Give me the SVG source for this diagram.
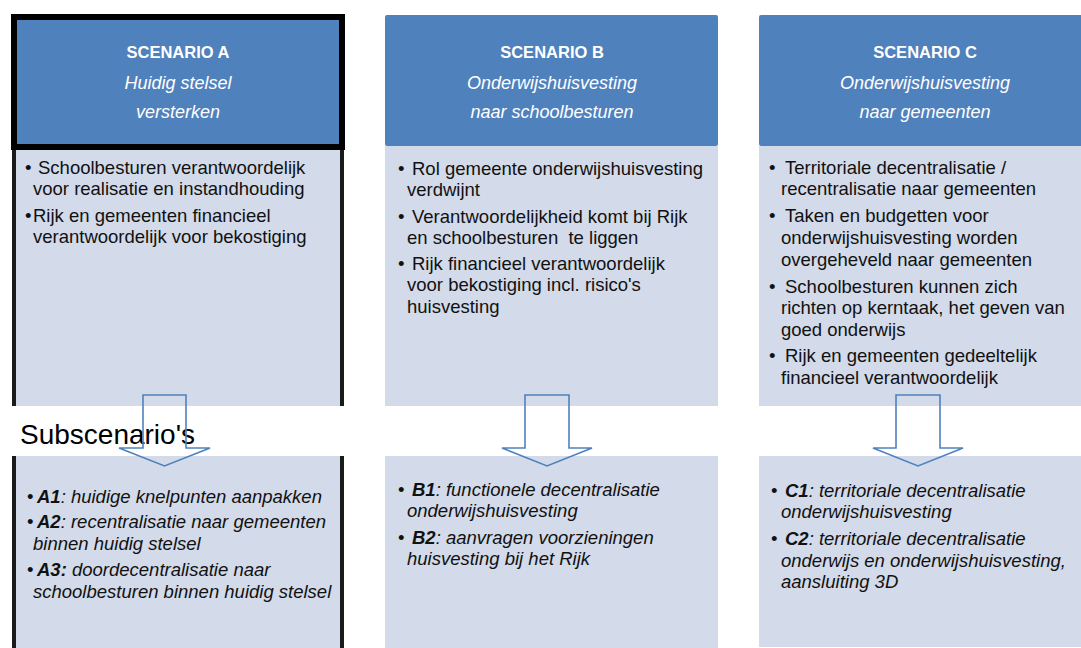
<svg xmlns="http://www.w3.org/2000/svg" width="1081" height="648" viewBox="0 0 1081 648">
<style>
.hdr{fill:#4f81bd}
.body{fill:#d3dae9}
.t{font-family:"Liberation Sans",Arial,sans-serif;font-size:18.5px;fill:#111}
.i{font-style:italic}
.b{font-weight:bold}
.h1{font-family:"Liberation Sans",Arial,sans-serif;font-size:16.5px;font-weight:bold;fill:#fff;text-anchor:middle}
.h2{font-family:"Liberation Sans",Arial,sans-serif;font-size:18px;font-style:italic;fill:#fff;text-anchor:middle}
.arrow{fill:none;stroke:#4f81bd;stroke-width:1.6;stroke-linejoin:miter}
.sub{font-family:"Liberation Sans",Arial,sans-serif;font-size:28px;fill:#000}
</style>
<rect width="1081" height="648" fill="#fff"/>

<g id="scenario-a">
  <rect class="body" x="14" y="147" width="328" height="503" stroke="#1a1a1a" stroke-width="4"/>
  <rect class="hdr" x="14" y="17" width="328" height="130" stroke="#000" stroke-width="6"/>
  <text class="h1" x="178" y="58">SCENARIO A</text>
  <text class="h2" x="178" y="89">Huidig stelsel</text>
  <text class="h2" x="178" y="118">versterken</text>
  <text class="t" x="25" y="174">•</text>
  <text class="t" x="38" y="174">Schoolbesturen verantwoordelijk</text>
  <text class="t" x="33" y="195">voor realisatie en instandhouding</text>
  <text class="t" x="25" y="222">•</text>
  <text class="t" x="33" y="222">Rijk en gemeenten financieel</text>
  <text class="t" x="33" y="243">verantwoordelijk voor bekostiging</text>
</g>

<g id="scenario-b">
  <rect class="body" x="385" y="146" width="333" height="260"/>
  <rect class="hdr" x="385" y="15" width="333" height="131" rx="2"/>
  <text class="h1" x="552" y="58">SCENARIO B</text>
  <text class="h2" x="552" y="89">Onderwijshuisvesting</text>
  <text class="h2" x="552" y="118">naar schoolbesturen</text>
  <text class="t" x="398" y="175">•</text>
  <text class="t" x="412" y="175">Rol gemeente onderwijshuisvesting</text>
  <text class="t" x="407" y="196">verdwijnt</text>
  <text class="t" x="398" y="223">•</text>
  <text class="t" x="412" y="223">Verantwoordelijkheid komt bij Rijk</text>
  <text class="t" x="407" y="244" xml:space="preserve">en schoolbesturen  te liggen</text>
  <text class="t" x="398" y="270">•</text>
  <text class="t" x="412" y="270">Rijk financieel verantwoordelijk</text>
  <text class="t" x="407" y="291">voor bekostiging incl. risico's</text>
  <text class="t" x="407" y="313">huisvesting</text>
</g>

<g id="scenario-c">
  <rect class="body" x="759" y="146" width="324" height="260"/>
  <rect class="hdr" x="759" y="15" width="324" height="131" rx="2"/>
  <text class="h1" x="925" y="58">SCENARIO C</text>
  <text class="h2" x="925" y="89">Onderwijshuisvesting</text>
  <text class="h2" x="925" y="118">naar gemeenten</text>
  <text class="t" x="769" y="174">•</text>
  <text class="t" x="785" y="174">Territoriale decentralisatie /</text>
  <text class="t" x="781" y="195">recentralisatie naar gemeenten</text>
  <text class="t" x="769" y="222">•</text>
  <text class="t" x="785" y="222">Taken en budgetten voor</text>
  <text class="t" x="781" y="244">onderwijshuisvesting worden</text>
  <text class="t" x="781" y="266">overgeheveld naar gemeenten</text>
  <text class="t" x="769" y="293">•</text>
  <text class="t" x="785" y="293">Schoolbesturen kunnen zich</text>
  <text class="t" x="781" y="314">richten op kerntaak, het geven van</text>
  <text class="t" x="781" y="336">goed onderwijs</text>
  <text class="t" x="769" y="362">•</text>
  <text class="t" x="785" y="362">Rijk en gemeenten gedeeltelijk</text>
  <text class="t" x="781" y="384">financieel verantwoordelijk</text>
</g>

<g id="subscenarios-band">
  <rect x="0" y="406" width="1081" height="50" fill="#fff"/>
  <text class="sub" x="20" y="444">Subscenario's</text>
</g>

<g id="subscenarios-a">
  <text class="t" x="27" y="503">•</text>
  <text class="t i" x="37" y="503"><tspan class="b">A1</tspan>: huidige knelpunten aanpakken</text>
  <text class="t" x="27" y="528">•</text>
  <text class="t i" x="37" y="528"><tspan class="b">A2</tspan>: recentralisatie naar gemeenten</text>
  <text class="t i" x="33" y="550">binnen huidig stelsel</text>
  <text class="t" x="27" y="576">•</text>
  <text class="t i" x="37" y="576"><tspan class="b">A3:</tspan> doordecentralisatie naar</text>
  <text class="t i" x="33" y="598">schoolbesturen binnen huidig stelsel</text>
</g>

<g id="subscenarios-b">
  <rect class="body" x="385" y="456" width="333" height="192"/>
  <text class="t" x="398" y="496">•</text>
  <text class="t i" x="412" y="496"><tspan class="b">B1</tspan>: functionele decentralisatie</text>
  <text class="t i" x="407" y="517">onderwijshuisvesting</text>
  <text class="t" x="398" y="544">•</text>
  <text class="t i" x="412" y="544"><tspan class="b">B2</tspan>: aanvragen voorzieningen</text>
  <text class="t i" x="407" y="565">huisvesting bij het Rijk</text>
</g>

<g id="subscenarios-c">
  <rect class="body" x="759" y="456" width="324" height="191"/>
  <text class="t" x="771" y="497">•</text>
  <text class="t i" x="785" y="497"><tspan class="b">C1</tspan>: territoriale decentralisatie</text>
  <text class="t i" x="781" y="518">onderwijshuisvesting</text>
  <text class="t" x="771" y="545">•</text>
  <text class="t i" x="785" y="545"><tspan class="b">C2</tspan>: territoriale decentralisatie</text>
  <text class="t i" x="781" y="567">onderwijs en onderwijshuisvesting,</text>
  <text class="t i" x="781" y="588">aansluiting 3D</text>
</g>

<g id="connectors">
  <path class="arrow" d="M143,395 H186 V448 H210 L164.5,466 L119,448 H143 Z"/>
  <path class="arrow" d="M525,395 H569 V448 H592 L547,466 L502,448 H525 Z"/>
  <path class="arrow" d="M896,395 H940 V448 H963 L918,466 L873,448 H896 Z"/>
</g>
</svg>
